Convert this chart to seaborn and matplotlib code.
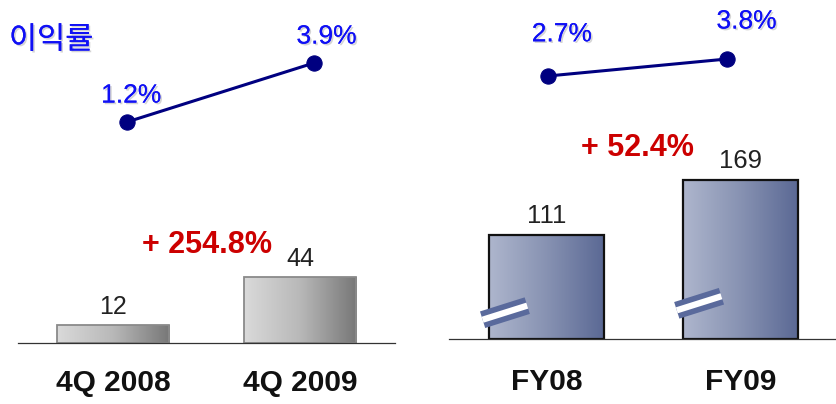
import matplotlib
matplotlib.use('Agg')

import numpy as np
import matplotlib.pyplot as plt
import matplotlib.patheffects as pe
import seaborn as sns
from matplotlib.colors import LinearSegmentedColormap

# data
quarters = ["4Q 2008", "4Q 2009"]
quarter_profit = [12, 44]
quarter_margin = [1.2, 3.9]
quarter_growth = "+ 254.8%"

years = ["FY08", "FY09"]
year_profit = [111, 169]
year_margin = [2.7, 3.8]
year_growth = "+ 52.4%"

margin_title = "이익률"

W, H = 836, 404

sns.set_style("white")
plt.rcParams['font.family'] = ['Liberation Sans', 'Noto Sans CJK KR', 'DejaVu Sans']

SHADOW = [pe.withSimplePatchShadow(offset=(1.2, -1.2), shadow_rgbFace='#888888', alpha=0.35),
          pe.Normal()]


def px_axes(fig, left, bottom, width, height):
    ax = fig.add_axes([left / W, bottom / H, width / W, height / H])
    ax.set_facecolor('none')
    return ax


def gradient_bars(ax, cmap, edgecolor, lw):
    grad = np.linspace(0, 1, 256).reshape(1, -1)
    for bar in list(ax.patches):
        x0, y0 = bar.get_x(), bar.get_y()
        w, h = bar.get_width(), bar.get_height()
        im = ax.imshow(grad, cmap=cmap, extent=(x0, x0 + w, y0, y0 + h),
                       aspect='auto', origin='lower', zorder=0.9)
        im.set_clip_path(bar)
        bar.set_facecolor('none')
        bar.set_edgecolor(edgecolor)
        bar.set_linewidth(lw)
        bar.set_zorder(1)


def style_bar_axes(ax, xlim, ylim, pad):
    ax.set_xlim(*xlim)
    ax.set_ylim(*ylim)
    for s in ['left', 'right', 'top']:
        ax.spines[s].set_visible(False)
    ax.spines['bottom'].set_color('#333333')
    ax.spines['bottom'].set_linewidth(0.9)
    ax.set_yticks([])
    ax.tick_params(axis='x', length=0, pad=pad)
    for t in ax.get_xticklabels():
        t.set_fontsize(21.5)
        t.set_fontweight('bold')
        t.set_color('#111111')


def margin_line(ax, values, offsets, xlim, ylim):
    sns.lineplot(x=list(range(len(values))), y=values, ax=ax, color='#000080',
                 linewidth=2.2, marker='o', markersize=11,
                 markeredgecolor='#000080', markerfacecolor='#000080')
    for i, (v, off) in enumerate(zip(values, offsets)):
        ax.annotate(f"{v}%", (i, v), xytext=off, textcoords='offset points',
                    ha='center', va='center', fontsize=19, color='#1010F5',
                    path_effects=SHADOW)
    ax.set_xlim(*xlim)
    ax.set_ylim(*ylim)
    ax.axis('off')


fig = plt.figure(figsize=(W / 100, H / 100), dpi=100)

grey_cmap = LinearSegmentedColormap.from_list('grey', ['#DADADA', '#B8B8B8', '#777777'])
blue_cmap = LinearSegmentedColormap.from_list('blue', ['#AEB6CD', '#8792B2', '#5A6894'])

# left panel: quarterly
ax1 = px_axes(fig, 18, 61, 377, 150)
sns.barplot(x=quarters, y=quarter_profit, ax=ax1, width=0.6, color='#aaaaaa')
gradient_bars(ax1, grey_cmap, '#8A8A8A', 1.3)
ax1.bar_label(ax1.containers[0], padding=4, fontsize=18, color='#222222')
style_bar_axes(ax1, (-0.508, 1.508), (0, 150 / 1.5), pad=19)

ax1l = px_axes(fig, 33.5, 250, 374, 154)
margin_line(ax1l, quarter_margin, [(3, 19), (9, 19)], (-0.5, 1.5), (-0.265, 6.78))

# right panel: yearly
ax2 = px_axes(fig, 449, 65, 387, 180)
sns.barplot(x=years, y=year_profit, ax=ax2, width=0.593, color='#8090b0')
gradient_bars(ax2, blue_cmap, '#111111', 1.6)
ax2.bar_label(ax2.containers[0], padding=5, fontsize=18.5, color='#222222')
style_bar_axes(ax2, (-0.503, 1.49), (0, 180 / 0.94), pad=21)

# axis break marks on the yearly bars
for i, lift in enumerate([28, 38]):
    xs = [i - 0.33, i - 0.10]
    ys = [lift - 7.5, lift + 7.5]
    ax2.plot(xs, ys, color='#5A6A9C', lw=12.5, solid_capstyle='butt', zorder=3)
    ax2.plot(xs, ys, color='white', lw=4.5, solid_capstyle='butt', zorder=4)

ax2l = px_axes(fig, 458.5, 250, 358, 154)
margin_line(ax2l, year_margin, [(10, 30), (14, 27)], (-0.5, 1.5), (-2.35, 7.62))

# text annotations
fig.text(9 / W, 1 - 40 / H, margin_title, ha='left', va='center', fontsize=22,
         color='#1010F5', family=['Noto Sans CJK KR', 'DejaVu Sans'],
         path_effects=SHADOW)
fig.text(207 / W, 1 - 245 / H, quarter_growth, ha='center', va='center',
         fontsize=22, fontweight='bold', color='#CC0000')
fig.text(637 / W, 1 - 148 / H, year_growth, ha='center', va='center',
         fontsize=22, fontweight='bold', color='#CC0000')

fig.savefig('out.png', dpi=100)
